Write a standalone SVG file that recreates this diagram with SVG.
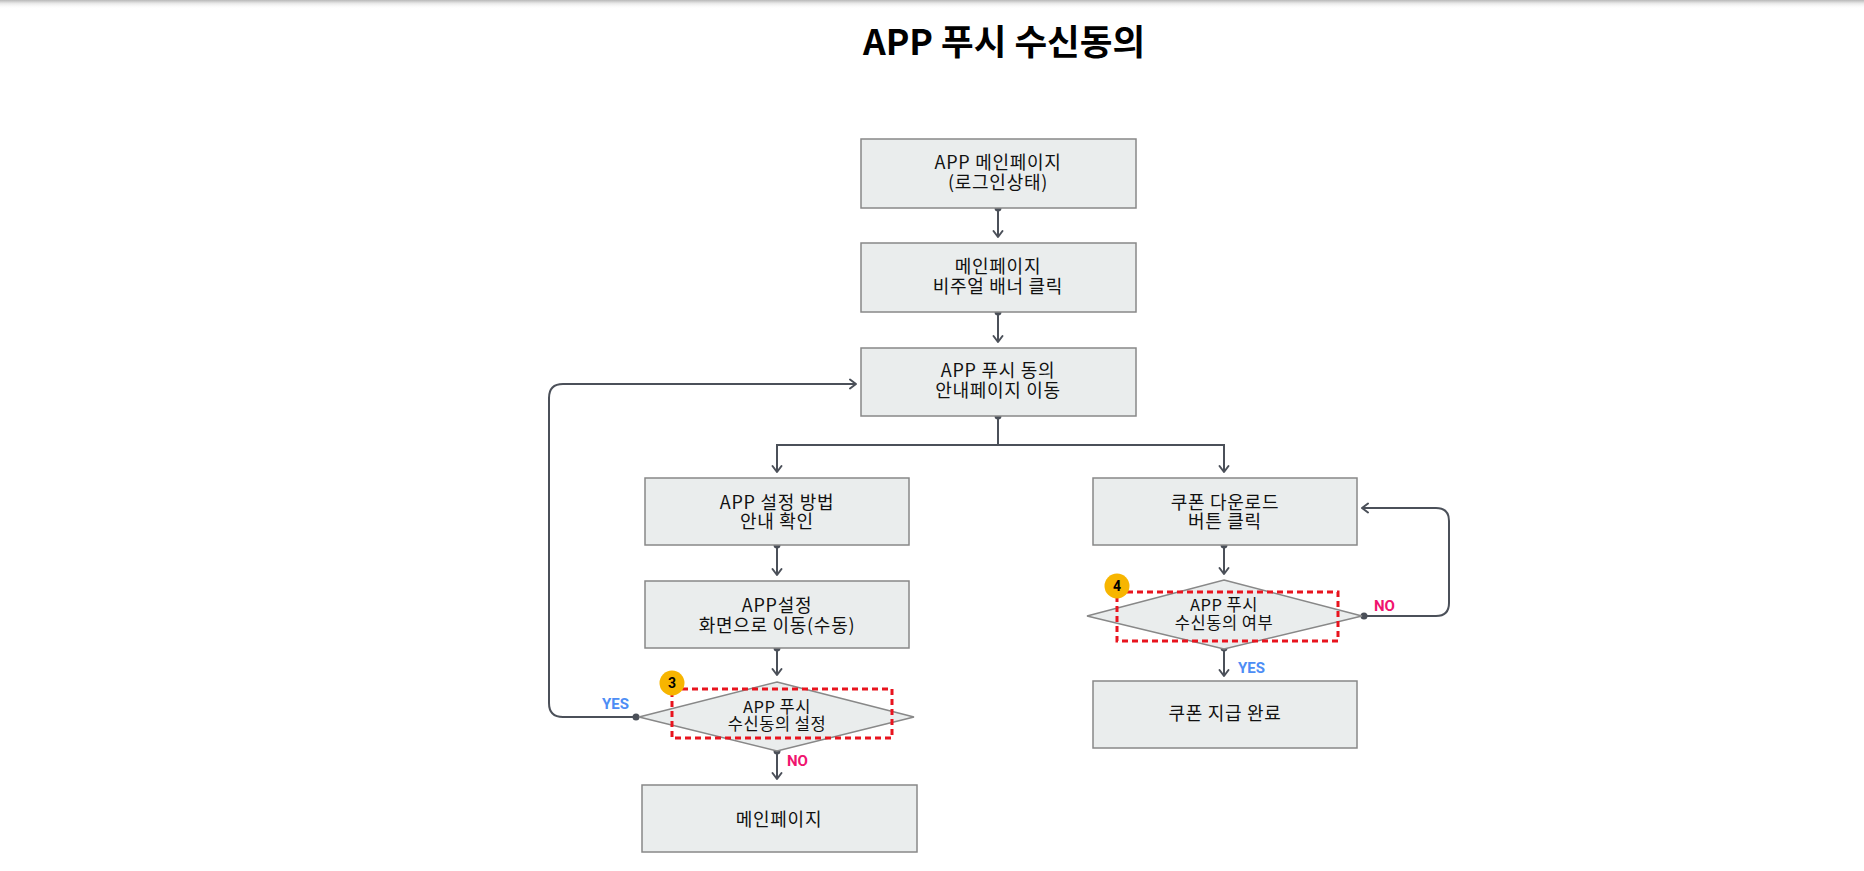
<svg xmlns="http://www.w3.org/2000/svg" width="1864" height="871" viewBox="0 0 1864 871">
<defs>
  <linearGradient id="topShadow" x1="0" y1="0" x2="0" y2="1">
    <stop offset="0" stop-color="#b8b8b8"/>
    <stop offset="0.35" stop-color="#e6e6e6"/>
    <stop offset="1" stop-color="#ffffff" stop-opacity="0"/>
  </linearGradient>
  <marker id="arrow" markerUnits="userSpaceOnUse" markerWidth="14" markerHeight="14" refX="10" refY="6" orient="auto">
    <path d="M4,1.5 L10,6 L4,10.5" fill="none" stroke="#4b5059" stroke-width="2" stroke-linecap="round" stroke-linejoin="round"/>
  </marker>
  <style>
    .box { fill: #eaeded; stroke: #888888; stroke-width: 1.5; }
    .dia { fill: #eaeded; stroke: #888888; stroke-width: 1.5; }
    .t { font-family: "Noto Sans CJK KR", "Noto Sans", sans-serif; font-size: 18px; letter-spacing: 0.7px; fill: #111111; text-anchor: middle; }
    .ts { font-family: "Noto Sans CJK KR", "Noto Sans", sans-serif; font-size: 16.5px; letter-spacing: 0.5px; fill: #111111; text-anchor: middle; }
    .title { font-family: "Noto Sans CJK KR", "Noto Sans", sans-serif; font-size: 35.5px; font-weight: 700; fill: #000000; text-anchor: middle; }
    .conn { fill: none; stroke: #4b5059; stroke-width: 2; }
    .dot { fill: #4b5059; }
    .hl { fill: none; stroke: #e8141e; stroke-width: 3; stroke-dasharray: 6 4; }
    .badge { fill: #f7b500; }
    .bt { font-family: Roboto, "Liberation Sans", sans-serif; font-size: 14px; font-weight: 700; fill: #000000; text-anchor: middle; }
    .yes { font-family: Roboto, "Liberation Sans", sans-serif; font-size: 15px; font-weight: 700; fill: #4d8df5; }
    .no { font-family: Roboto, "Liberation Sans", sans-serif; font-size: 15px; font-weight: 700; fill: #f0146e; }
  </style>
</defs>
<rect x="0" y="0" width="1864" height="871" fill="#ffffff"/>
<rect x="0" y="0" width="1864" height="9" fill="url(#topShadow)"/>

<text class="title" x="1004" y="55">APP 푸시 수신동의</text>

<g id="connectors">
  <path class="conn" d="M998,208 V237" marker-end="url(#arrow)"/>
  <path class="conn" d="M998,312 V342" marker-end="url(#arrow)"/>
  <path class="conn" d="M998,416 V445 H777 V472" marker-end="url(#arrow)"/>
  <path class="conn" d="M998,445 H1224 V472" marker-end="url(#arrow)"/>
  <path class="conn" d="M777,545 V575" marker-end="url(#arrow)"/>
  <path class="conn" d="M777,648 V675" marker-end="url(#arrow)"/>
  <path class="conn" d="M777,751 V779" marker-end="url(#arrow)"/>
  <path class="conn" d="M636,717 H563 Q549,717 549,703 V398 Q549,384 563,384 H856" marker-end="url(#arrow)"/>
  <path class="conn" d="M1224,545 V574" marker-end="url(#arrow)"/>
  <path class="conn" d="M1224,648 V676" marker-end="url(#arrow)"/>
  <path class="conn" d="M1364,616 H1436 Q1449,616 1449,603 V521 Q1449,508 1436,508 H1362" marker-end="url(#arrow)"/>
  <circle class="dot" cx="998" cy="208" r="3.5"/>
  <circle class="dot" cx="998" cy="312" r="3.5"/>
  <circle class="dot" cx="998" cy="416" r="3.5"/>
  <circle class="dot" cx="777" cy="545" r="3.5"/>
  <circle class="dot" cx="777" cy="648" r="3.5"/>
  <circle class="dot" cx="777" cy="751" r="3.5"/>
  <circle class="dot" cx="636" cy="717" r="3.5"/>
  <circle class="dot" cx="1224" cy="545" r="3.5"/>
  <circle class="dot" cx="1224" cy="648" r="3.5"/>
  <circle class="dot" cx="1364" cy="616" r="3.5"/>
  <text class="yes" x="629" y="709" text-anchor="end">YES</text>
  <text class="no" x="787" y="766">NO</text>
  <text class="no" x="1374" y="611">NO</text>
  <text class="yes" x="1238" y="673">YES</text>
</g>

<g id="n1">
  <rect class="box" x="861" y="139" width="275" height="69"/>
  <text class="t" x="998" y="169">APP 메인페이지<tspan x="998" dy="20">(로그인상태)</tspan></text>
</g>
<g id="n2">
  <rect class="box" x="861" y="243" width="275" height="69"/>
  <text class="t" x="998" y="273">메인페이지<tspan x="998" dy="20">비주얼 배너 클릭</tspan></text>
</g>
<g id="n3">
  <rect class="box" x="861" y="348" width="275" height="68"/>
  <text class="t" x="998" y="377">APP 푸시 동의<tspan x="998" dy="20">안내페이지 이동</tspan></text>
</g>
<g id="n4">
  <rect class="box" x="645" y="478" width="264" height="67"/>
  <text class="t" x="777" y="509">APP 설정 방법<tspan x="777" dy="19">안내 확인</tspan></text>
</g>
<g id="n5">
  <rect class="box" x="645" y="581" width="264" height="67"/>
  <text class="t" x="777" y="612">APP설정<tspan x="777" dy="20">화면으로 이동(수동)</tspan></text>
</g>
<g id="n6">
  <polygon class="dia" points="777,682 914,717 777,751 639,717"/>
  <text class="ts" x="777" y="713">APP 푸시<tspan x="777" dy="17">수신동의 설정</tspan></text>
  <rect class="hl" x="672" y="689" width="220" height="49"/>
  <circle class="badge" cx="672" cy="683" r="12.5"/>
  <text class="bt" x="672" y="688">3</text>
</g>
<g id="n7">
  <rect class="box" x="642" y="785" width="275" height="67"/>
  <text class="t" x="779" y="826">메인페이지</text>
</g>
<g id="n8">
  <rect class="box" x="1093" y="478" width="264" height="67"/>
  <text class="t" x="1225" y="509">쿠폰 다운로드<tspan x="1225" dy="19">버튼 클릭</tspan></text>
</g>
<g id="n9">
  <polygon class="dia" points="1224,580 1362,616 1224,649 1087,616"/>
  <text class="ts" x="1224" y="611">APP 푸시<tspan x="1224" dy="18">수신동의 여부</tspan></text>
  <rect class="hl" x="1117" y="592" width="221" height="49"/>
  <circle class="badge" cx="1117" cy="586" r="12.5"/>
  <text class="bt" x="1117" y="591">4</text>
</g>
<g id="n10">
  <rect class="box" x="1093" y="681" width="264" height="67"/>
  <text class="t" x="1225" y="720">쿠폰 지급 완료</text>
</g>
</svg>
